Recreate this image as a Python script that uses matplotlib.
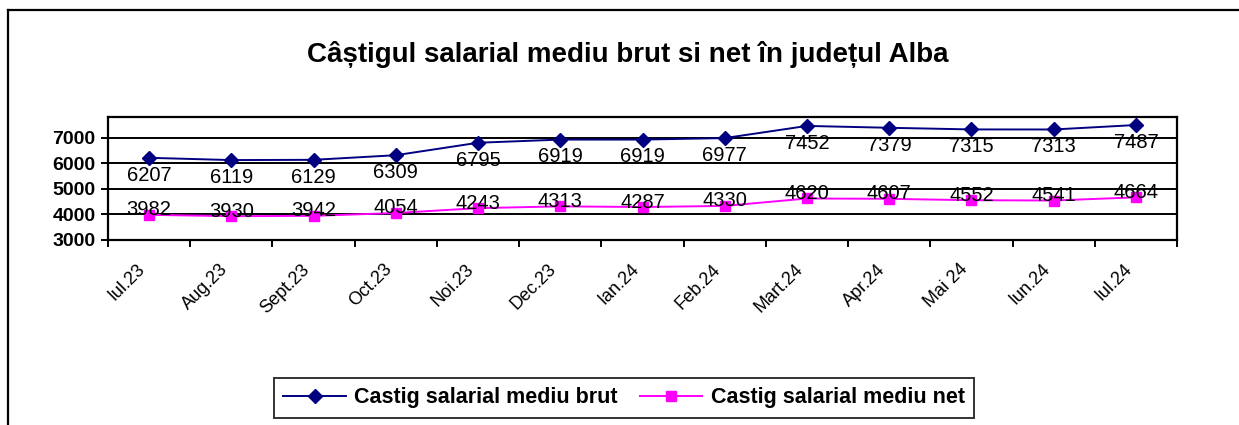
import matplotlib.pyplot as plt
from matplotlib.lines import Line2D
from matplotlib.transforms import ScaledTranslation

luni = ["Iul.23", "Aug.23", "Sept.23", "Oct.23", "Noi.23", "Dec.23", "Ian.24",
        "Feb.24", "Mart.24", "Apr.24", "Mai 24", "Iun.24", "Iul.24"]
brut = [6207, 6119, 6129, 6309, 6795, 6919, 6919, 6977, 7452, 7379, 7315, 7313, 7487]
net = [3982, 3930, 3942, 4054, 4243, 4313, 4287, 4330, 4620, 4607, 4552, 4541, 4664]
y_ticks = [3000, 4000, 5000, 6000, 7000]

plt.rcParams['font.family'] = ['Liberation Sans', 'DejaVu Sans']

fig = plt.figure(figsize=(12.39, 4.25), dpi=100)
ax = fig.add_axes([108 / 1239, 1 - 240 / 425, (1177 - 108) / 1239, (240 - 117) / 425])

x = list(range(len(luni)))
ax.plot(x, brut, color='#000080', marker='D', markersize=7, linewidth=1.4,
        label='Castig salarial mediu brut')
ax.plot(x, net, color='#FF00FF', marker='s', markersize=7, linewidth=1.4,
        label='Castig salarial mediu net')

# etichete de date
for i in x:
    ax.annotate(str(brut[i]), (i, brut[i]), xytext=(0, -12.5), textcoords='offset points',
                ha='center', va='center', fontsize=14.5)
    ax.annotate(str(net[i]), (i, net[i]), xytext=(0, 3.6), textcoords='offset points',
                ha='center', va='center', fontsize=14.5)

ax.set_xlim(-0.5, len(luni) - 0.5)
ax.set_ylim(3000, 7800)
ax.set_yticks(y_ticks)
ax.set_yticklabels([str(v) for v in y_ticks], fontsize=14, fontweight='bold')
ax.yaxis.grid(True, color='black', linewidth=1.4)
ax.set_axisbelow(True)

ax.set_xticks([i + 0.5 for i in range(-1, len(luni))], minor=False)
ax.set_xticklabels([])
ax.set_xticks(x, minor=True)
ax.set_xticklabels(luni, minor=True, rotation=45, ha='right', rotation_mode='anchor',
                   fontsize=13)
ax.tick_params(axis='x', which='minor', length=0, pad=15)
ax.tick_params(axis='x', which='major', length=5, width=1.4, direction='out')
ax.tick_params(axis='y', length=5, width=1.4, direction='out', pad=4)
shift = ScaledTranslation(-9 / 72, 0, fig.dpi_scale_trans)
for lbl in ax.get_xticklabels(minor=True):
    lbl.set_transform(lbl.get_transform() + shift)
for s in ax.spines.values():
    s.set_linewidth(1.6)

fig.text(628 / 1239, 1 - 55 / 425, "Câștigul salarial mediu brut si net în județul Alba",
         ha='center', va='center', fontsize=20, fontweight='bold')

leg = fig.legend(loc='center', bbox_to_anchor=(624 / 1239, 1 - 398 / 425), ncol=2,
                 prop={'weight': 'bold', 'size': 15.5}, frameon=True,
                 fancybox=False, edgecolor='black', handlelength=2.9, columnspacing=1.0,
                 borderpad=0.45, handletextpad=0.4, borderaxespad=0)
leg.get_frame().set_linewidth(1.4)

# chenarul exterior
fig.add_artist(Line2D([8 / 1239, 8 / 1239], [0, 1 - 10 / 425], color='black', linewidth=1.6,
                      transform=fig.transFigure))
fig.add_artist(Line2D([8 / 1239, 1], [1 - 10 / 425, 1 - 10 / 425], color='black',
                      linewidth=1.6, transform=fig.transFigure))

fig.savefig('out.png', dpi=100)
